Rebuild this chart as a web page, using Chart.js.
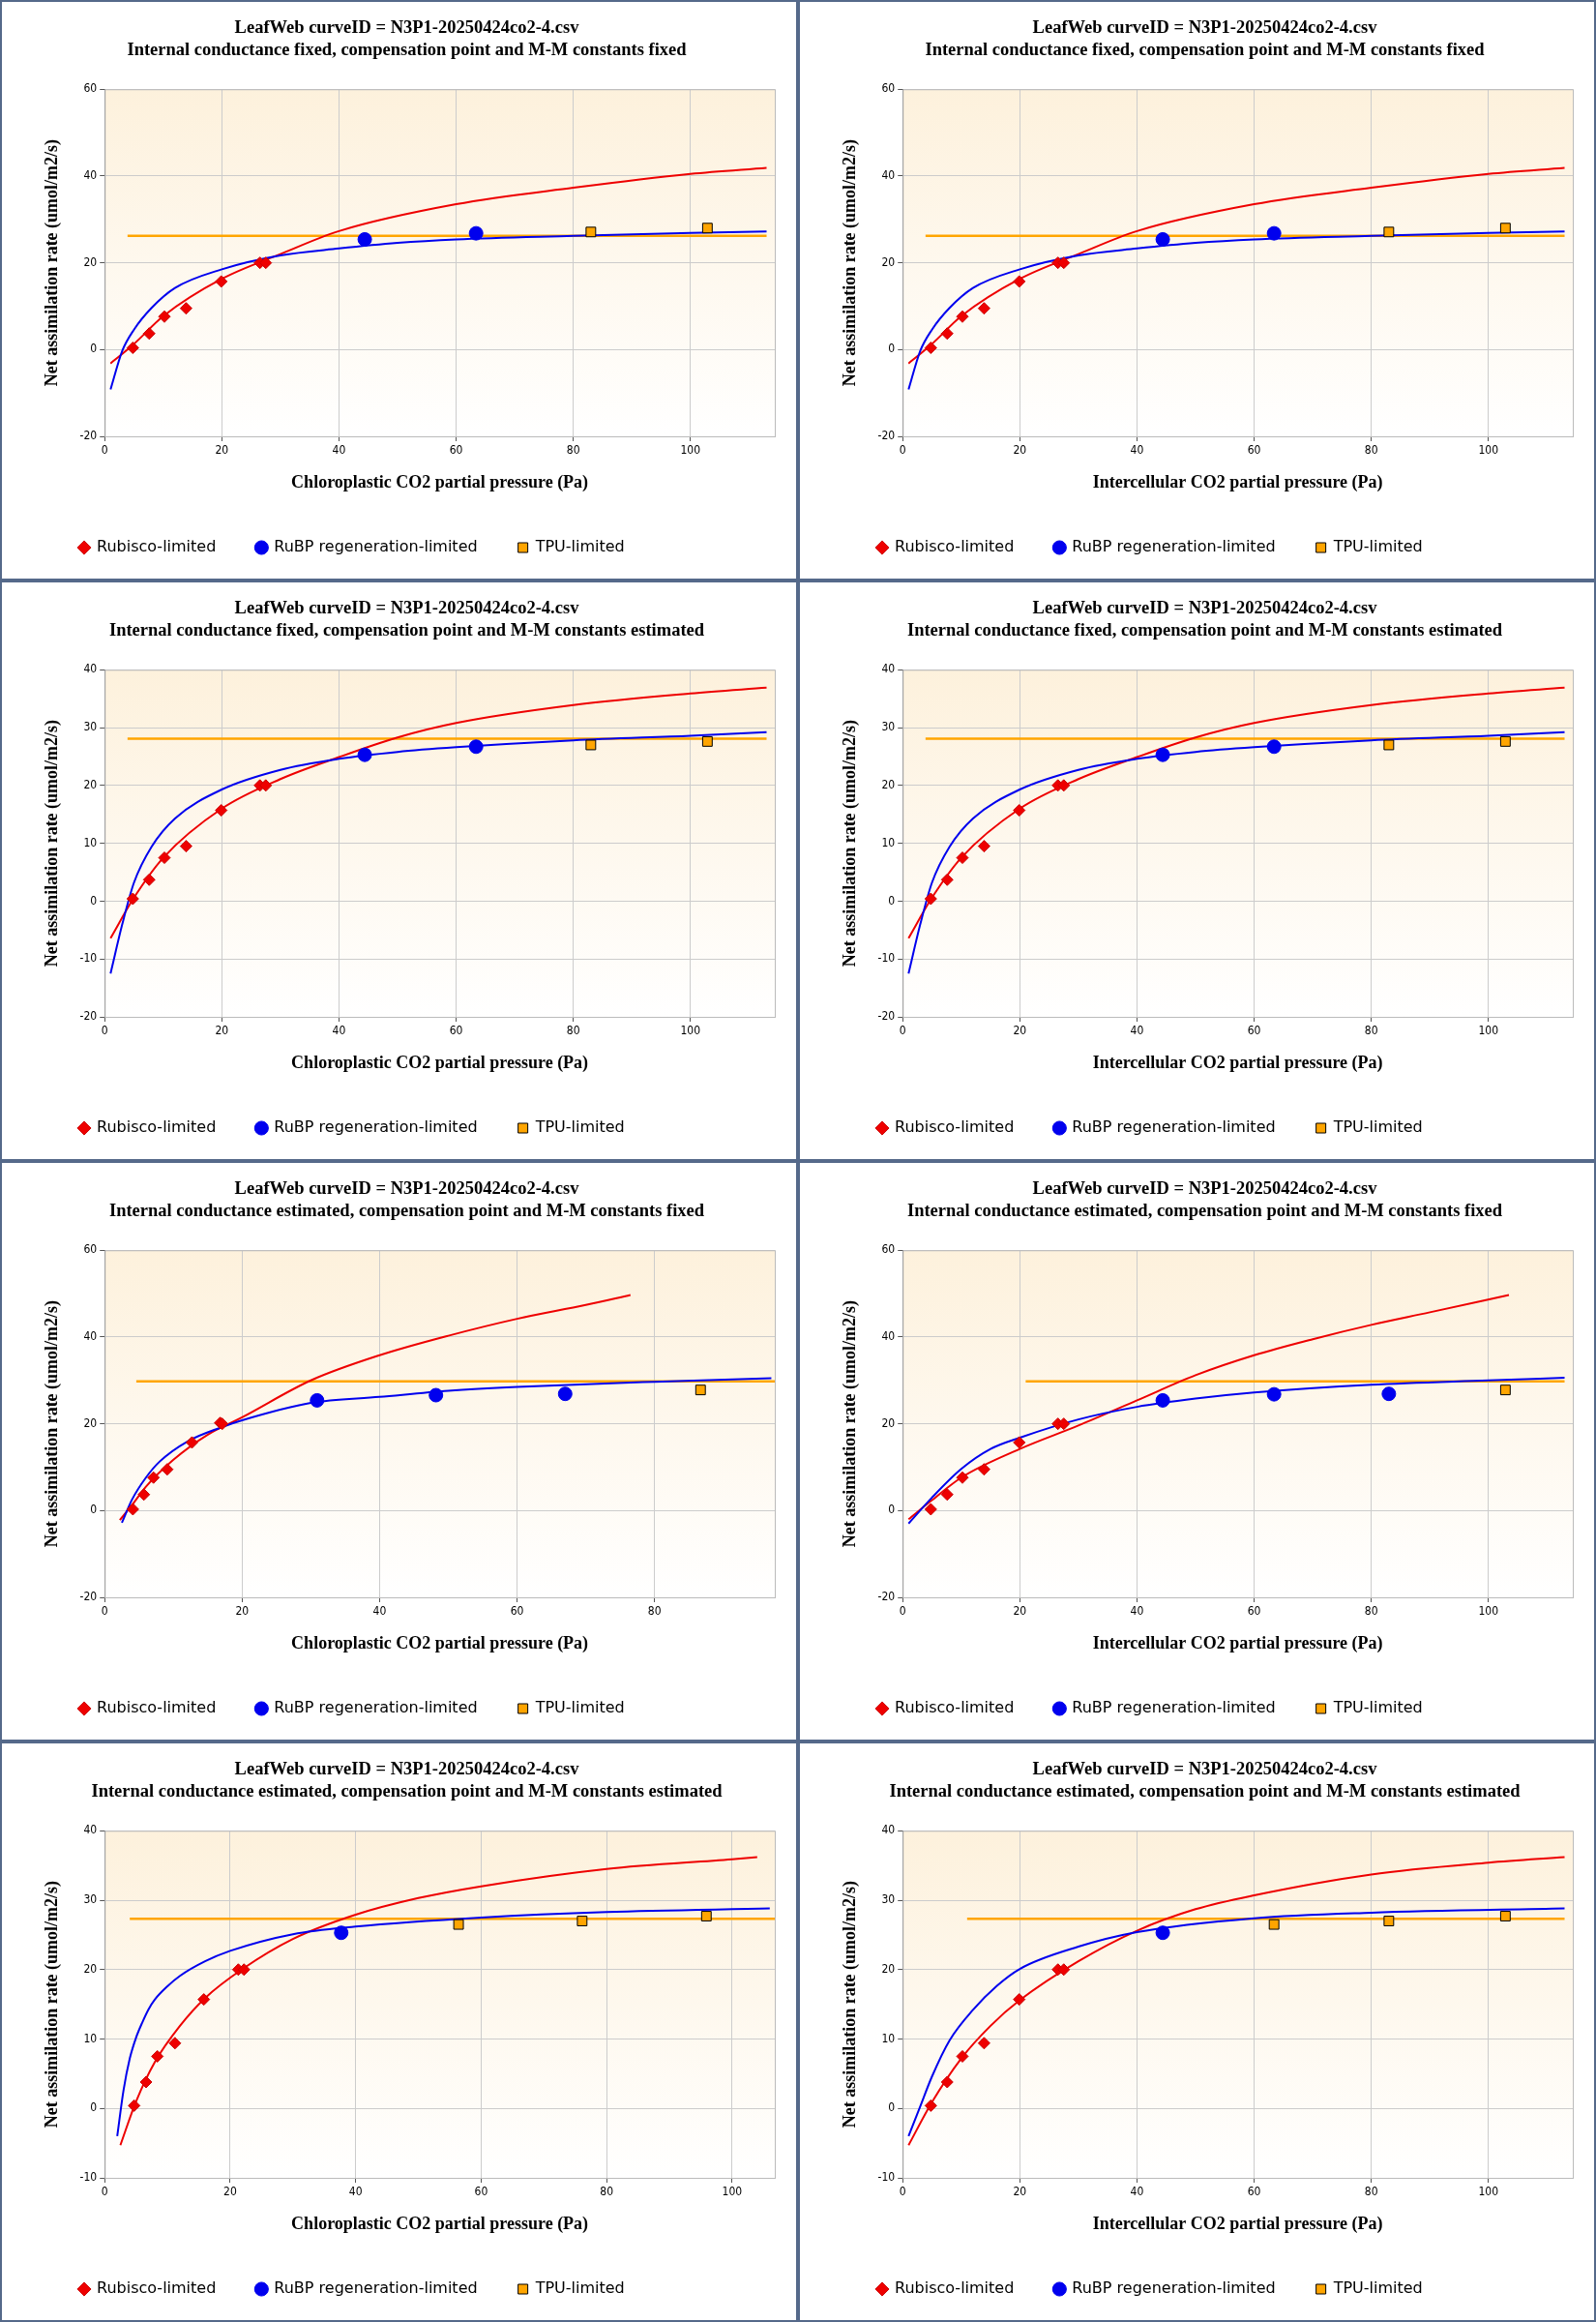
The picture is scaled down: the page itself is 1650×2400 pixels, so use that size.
<!DOCTYPE html>
<html>
<head>
<meta charset="utf-8">
<script src="https://cdn.jsdelivr.net/npm/chart.js@4.4.1/dist/chart.umd.min.js"></script>
<style>
  body { margin: 0; background: #fff; }
  #grid { display: grid; grid-template-columns: 825px 825px; width: 1650px; }
  .cell { width: 821px; height: 596px; border: 2px solid #55698a; background: #fff; }
  canvas { display: block; }
</style>
</head>
<body>
<div id="grid"></div>
<script>
// Row 1: gm fixed, compensation point and M-M fixed (same on both sides)
var p1Rubisco = [[4.8,0.4],[7.6,3.7],[10.2,7.6],[13.9,9.5],[19.9,15.7],[26.5,20],[27.5,20]];
var p1Rubp = [[44.4,25.4],[63.4,26.8]];
var p1Tpu = [[83,27.1],[102.9,28.0]];
var p1RedLine = [[1,-3.2],[5,1.3],[10,7.7],[20,16.3],[30,22],[40,27.3],[60,33.5],[80,37.3],[100,40.5],[113,41.9]];
var p1BlueLine = [[1,-9.2],[3,-0.3],[5,4.6],[8,9.6],[12,14.2],[20,18.5],[30,21.7],[40,23.3],[50,24.6],[60,25.4],[80,26.2],[100,26.9],[113,27.2]];
var p1TpuLine = [[3.9,26.2],[113,26.2]];

// Row 2: gm fixed, compensation point and M-M estimated
var p2Rubisco = [[4.8,0.4],[7.6,3.7],[10.2,7.5],[13.9,9.5],[19.9,15.7],[26.5,20],[27.5,20]];
var p2Rubp = [[44.4,25.3],[63.4,26.7]];
var p2Tpu = [[83,27.0],[102.9,27.6]];
var p2RedLine = [[1,-6.4],[5,0.6],[10,7.5],[20,16],[30,21.1],[40,24.9],[50,28.3],[60,30.8],[80,33.9],[100,35.9],[113,36.9]];
var p2BlueLine = [[1,-12.5],[3,-4],[5,3.2],[8,9.4],[12,14.3],[20,19.3],[30,22.7],[40,24.6],[50,25.8],[60,26.6],[80,27.8],[100,28.6],[113,29.2]];
var p2TpuLine = [[3.9,28.1],[113,28.1]];

// Row 3 left: gm estimated, fixed constants (chloroplastic)
var p3Rubisco = [[4.1,0.3],[5.7,3.7],[7.1,7.6],[9.1,9.5],[12.7,15.7],[16.8,20.2],[17.1,20]];
var p3Rubp = [[30.9,25.4],[48.2,26.6],[67.0,26.9]];
var p3Tpu = [[86.7,27.8]];
var p3RedLine = [[2.2,-2.2],[4,1.3],[6,5.5],[10,11.7],[15,17.5],[20,21.5],[30,30],[40,35.8],[50,40.3],[60,44.2],[70,47.4],[76.5,49.7]];
var p3BlueLine = [[2.5,-2.8],[4,2.6],[6,7.6],[8,11.3],[12,15.9],[17,19.2],[20,20.8],[30,24.8],[40,26.2],[50,27.6],[60,28.5],[80,29.7],[97,30.5]];
var p3TpuLine = [[4.6,29.8],[97.5,29.8]];

// Row 3 right: gm estimated, fixed constants (intercellular)
var p4Rubisco = [[4.8,0.3],[7.6,3.7],[10.2,7.6],[13.9,9.5],[19.9,15.7],[26.5,20],[27.5,20]];
var p4Rubp = [[44.4,25.4],[63.4,26.8],[83,26.9]];
var p4Tpu = [[102.9,27.8]];
var p4RedLine = [[1,-2],[5,2.4],[10,7.6],[20,14.2],[30,19.6],[40,25.4],[50,31.2],[60,35.8],[70,39.5],[80,42.8],[90,45.7],[103.5,49.7]];
var p4BlueLine = [[1,-3],[5,3],[10,9.6],[15,14.2],[20,16.8],[30,21],[40,23.9],[50,25.8],[60,27.2],[80,29],[100,30],[113,30.6]];
var p4TpuLine = [[21,29.8],[113,29.8]];

// Row 4 left: all estimated (chloroplastic)
var p5Rubisco = [[4.7,0.4],[6.6,3.8],[8.4,7.5],[11.2,9.4],[15.8,15.7],[21.3,20],[22.2,20]];
var p5Rubp = [[37.7,25.3]];
var p5Tpu = [[56.4,26.5],[76.1,27.0],[95.9,27.7]];
var p5RedLine = [[2.5,-5.3],[5,1],[8,6.7],[12,11.9],[16,15.9],[22,20.1],[30,24.4],[40,27.9],[50,30.3],[60,32],[80,34.5],[100,35.9],[104,36.2]];
var p5BlueLine = [[2,-4],[3,2.6],[4,7.2],[5,10.2],[6,12.4],[7,14.3],[8,15.7],[10,17.6],[12,19.1],[16,21.2],[20,22.7],[30,25.1],[40,26.2],[60,27.5],[80,28.3],[106,28.8]];
var p5TpuLine = [[4,27.3],[106.8,27.3]];

// Row 4 right: all estimated (intercellular)
var p6Rubisco = [[4.8,0.4],[7.6,3.8],[10.2,7.5],[13.9,9.4],[19.9,15.7],[26.5,20],[27.5,20]];
var p6Rubp = [[44.4,25.3]];
var p6Tpu = [[63.4,26.5],[83,27.0],[102.9,27.7]];
var p6RedLine = [[1,-5.3],[5,0.9],[10,7.2],[15,11.9],[20,15.6],[30,21.2],[40,25.6],[50,28.7],[60,30.7],[80,33.7],[100,35.4],[113,36.2]];
var p6BlueLine = [[1,-4],[3,0.3],[5,4.6],[8,9.8],[12,14.2],[16,17.6],[20,20.1],[30,23.3],[40,25.4],[60,27.4],[80,28.2],[113,28.8]];
var p6TpuLine = [[11,27.3],[113,27.3]];

var fileLine = 'LeafWeb curveID = N3P1-20250424co2-4.csv';
var subtitles = [
  'Internal conductance fixed, compensation point and M-M constants fixed',
  'Internal conductance fixed, compensation point and M-M constants estimated',
  'Internal conductance estimated, compensation point and M-M constants fixed',
  'Internal conductance estimated, compensation point and M-M constants estimated'
];
var xTitleCc = 'Chloroplastic CO2 partial pressure (Pa)';
var xTitleCi = 'Intercellular CO2 partial pressure (Pa)';
var yTitle = 'Net assimilation rate (umol/m2/s)';

var panels = [
  {sub: 0, xt: xTitleCc, xmax: 114.4, ymin: -20, ymax: 60, ystep: 20, d: [p1Rubisco, p1Rubp, p1Tpu, p1RedLine, p1BlueLine, p1TpuLine]},
  {sub: 0, xt: xTitleCi, xmax: 114.4, ymin: -20, ymax: 60, ystep: 20, d: [p1Rubisco, p1Rubp, p1Tpu, p1RedLine, p1BlueLine, p1TpuLine]},
  {sub: 1, xt: xTitleCc, xmax: 114.4, ymin: -20, ymax: 40, ystep: 10, d: [p2Rubisco, p2Rubp, p2Tpu, p2RedLine, p2BlueLine, p2TpuLine]},
  {sub: 1, xt: xTitleCi, xmax: 114.4, ymin: -20, ymax: 40, ystep: 10, d: [p2Rubisco, p2Rubp, p2Tpu, p2RedLine, p2BlueLine, p2TpuLine]},
  {sub: 2, xt: xTitleCc, xmax: 97.5, ymin: -20, ymax: 60, ystep: 20, d: [p3Rubisco, p3Rubp, p3Tpu, p3RedLine, p3BlueLine, p3TpuLine]},
  {sub: 2, xt: xTitleCi, xmax: 114.4, ymin: -20, ymax: 60, ystep: 20, d: [p4Rubisco, p4Rubp, p4Tpu, p4RedLine, p4BlueLine, p4TpuLine]},
  {sub: 3, xt: xTitleCc, xmax: 106.8, ymin: -10, ymax: 40, ystep: 10, d: [p5Rubisco, p5Rubp, p5Tpu, p5RedLine, p5BlueLine, p5TpuLine]},
  {sub: 3, xt: xTitleCi, xmax: 114.4, ymin: -10, ymax: 40, ystep: 10, d: [p6Rubisco, p6Rubp, p6Tpu, p6RedLine, p6BlueLine, p6TpuLine]}
];

function pts(a) { return a.map(function (p) { return {x: p[0], y: p[1]}; }); }

// peach-to-white plot background plus a frame
var plotBg = {
  id: 'plotBg',
  beforeDraw: function (chart) {
    var a = chart.chartArea, c = chart.ctx;
    var g = c.createLinearGradient(0, a.top, 0, a.bottom);
    g.addColorStop(0, '#fdf1dc');
    g.addColorStop(1, '#ffffff');
    c.save();
    c.fillStyle = g;
    c.fillRect(a.left, a.top, a.right - a.left, a.bottom - a.top);
    c.restore();
  },
  afterDraw: function (chart) {
    var a = chart.chartArea, c = chart.ctx;
    c.save();
    c.strokeStyle = '#bbbbbb';
    c.lineWidth = 1;
    c.strokeRect(a.left + 0.5, a.top + 0.5, a.right - a.left, a.bottom - a.top);
    c.restore();
  }
};

var grid = document.getElementById('grid');
panels.forEach(function (p) {
  var div = document.createElement('div');
  div.className = 'cell';
  var cv = document.createElement('canvas');
  cv.width = 821; cv.height = 596;
  div.appendChild(cv);
  grid.appendChild(div);

  new Chart(cv, {
    type: 'scatter',
    data: {
      datasets: [
        {label: 'Rubisco-limited', data: pts(p.d[0]), pointStyle: 'rectRot', pointRadius: 6, backgroundColor: '#ee0000', borderColor: '#cc0000', borderWidth: 1, order: 1},
        {label: 'RuBP regeneration-limited', data: pts(p.d[1]), pointStyle: 'circle', pointRadius: 7, backgroundColor: '#0000ee', borderColor: '#0000ee', borderWidth: 1, order: 1},
        {label: 'TPU-limited', data: pts(p.d[2]), pointStyle: 'rect', pointRadius: 7, backgroundColor: '#ffa500', borderColor: '#000000', borderWidth: 1, order: 1},
        {label: 'rline', type: 'line', data: pts(p.d[3]), showLine: true, pointRadius: 0, borderColor: '#ee0000', borderWidth: 2, cubicInterpolationMode: 'monotone', order: 3},
        {label: 'bline', type: 'line', data: pts(p.d[4]), showLine: true, pointRadius: 0, borderColor: '#0000ee', borderWidth: 2, cubicInterpolationMode: 'monotone', order: 2},
        {label: 'tline', type: 'line', data: pts(p.d[5]), showLine: true, pointRadius: 0, borderColor: '#ffa500', borderWidth: 2.5, order: 4}
      ]
    },
    options: {
      responsive: false,
      animation: false,
      layout: {padding: {left: 38, right: 22, top: 6, bottom: 14}},
      plugins: {
        title: {
          display: true,
          text: [fileLine, subtitles[p.sub]],
          color: '#000',
          font: {family: 'Liberation Serif', size: 18.5, weight: 'bold', lineHeight: 1.25},
          padding: {top: 10, bottom: 28}
        },
        legend: {
          position: 'bottom',
          align: 'start',
          labels: {
            usePointStyle: true,
            color: '#000',
            font: {family: 'DejaVu Sans', size: 16},
            boxWidth: 10,
            boxHeight: 10,
            padding: 42,
            filter: function (item) { return item.datasetIndex < 3; }
          }
        },
        tooltip: {enabled: false}
      },
      scales: {
        x: {
          type: 'linear', min: 0, max: p.xmax,
          ticks: {stepSize: 20, includeBounds: false, color: '#000', font: {family: 'DejaVu Sans Condensed', size: 12}},
          grid: {color: '#cccccc', tickColor: '#555', tickLength: 5},
          border: {color: '#555'},
          title: {display: true, text: p.xt, color: '#000', font: {family: 'Liberation Serif', size: 18, weight: 'bold'}, padding: {top: 12, bottom: 6}}
        },
        y: {
          min: p.ymin, max: p.ymax,
          ticks: {stepSize: p.ystep, color: '#000', font: {family: 'DejaVu Sans Condensed', size: 12}},
          grid: {color: '#cccccc', tickColor: '#555', tickLength: 5},
          border: {color: '#555'},
          title: {display: true, text: yTitle, color: '#000', font: {family: 'Liberation Serif', size: 18, weight: 'bold'}, padding: {bottom: 14}}
        }
      }
    },
    plugins: [plotBg]
  });
});
</script>
</body>
</html>
